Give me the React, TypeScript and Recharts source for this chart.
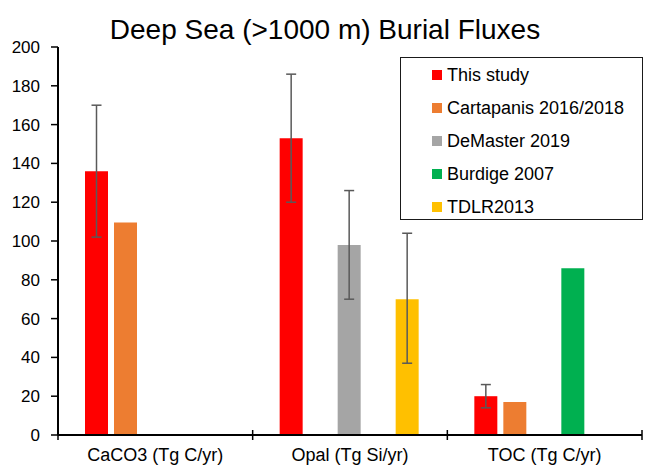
import React from "react";
import { BarChart, Bar, XAxis, YAxis, ErrorBar, Legend } from "recharts";

const categories = ["CaCO3 (Tg C/yr)", "Opal (Tg Si/yr)", "TOC (Tg C/yr)"];
const thisStudy = [136, 153, 20];
const thisStudyErr = [[34, 34], [33, 33], [6, 6]];
const cartapanis = [109.5, null, 17];
const demaster = [null, 98, null];
const demasterErr = [null, [28, 28], null];
const burdige = [null, null, 86];
const tdlr = [null, 70, null];
const tdlrErr = [null, [33, 34], null];
const yTicks = [0, 20, 40, 60, 80, 100, 120, 140, 160, 180, 200];
const title = "Deep Sea (>1000 m) Burial Fluxes";

const series = [
  { key: "thisStudy", name: "This study", color: "#FF0000" },
  { key: "cartapanis", name: "Cartapanis 2016/2018", color: "#ED7D31" },
  { key: "demaster", name: "DeMaster 2019", color: "#A5A5A5" },
  { key: "burdige", name: "Burdige 2007", color: "#00B050" },
  { key: "tdlr", name: "TDLR2013", color: "#FFC000" },
];

const data = categories.map((c, i) => ({
  name: c,
  thisStudy: thisStudy[i],
  thisStudyErr: thisStudyErr[i],
  cartapanis: cartapanis[i],
  demaster: demaster[i],
  demasterErr: demasterErr[i],
  burdige: burdige[i],
  tdlr: tdlr[i],
  tdlrErr: tdlrErr[i],
}));

const FONT = "'Liberation Sans', Arial, sans-serif";

const XTick = (props: any) => {
  const { x, y, payload, index } = props;
  const half = payload && payload.offset ? payload.offset : 97.5;
  return (
    <g>
      <line x1={x - half} x2={x - half} y1={y - 5} y2={y + 5} stroke="#000" strokeWidth={1.5} />
      {index === categories.length - 1 && (
        <line x1={x + half} x2={x + half} y1={y - 5} y2={y + 5} stroke="#000" strokeWidth={1.5} />
      )}
      <text x={x} y={y + 26} textAnchor="middle" fontSize={18} fontFamily={FONT} fill="#000">
        {payload.value}
      </text>
    </g>
  );
};

const LegendBox = () => (
  <div
    style={{
      width: 243,
      height: 163,
      border: "1.5px solid #1a1a1a",
      background: "#fff",
      boxSizing: "border-box",
      fontFamily: FONT,
      fontSize: 18,
      color: "#000",
      position: "relative",
    }}
  >
    {series.map((s, i) => (
      <div
        key={s.key}
        style={{
          position: "absolute",
          left: 31,
          top: 6 + i * 33,
          height: 22,
          display: "flex",
          alignItems: "center",
          whiteSpace: "nowrap",
        }}
      >
        <span style={{ width: 10, height: 10, background: s.color, display: "inline-block", marginRight: 5 }} />
        <span>{s.name}</span>
      </div>
    ))}
  </div>
);

export default function App() {
  return (
    <div style={{ position: "absolute", left: 0, top: 0, width: 647, height: 465, background: "#fff" }}>
      <div
        style={{
          position: "absolute",
          left: 0,
          width: 650,
          top: 16,
          textAlign: "center",
          fontFamily: FONT,
          fontSize: 28,
          lineHeight: "28px",
          color: "#000",
          whiteSpace: "nowrap",
        }}
      >
        {title}
      </div>
      <BarChart
        width={647}
        height={465}
        data={data}
        margin={{ top: 47, right: 5, bottom: 0, left: 0 }}
        barCategoryGap={27}
        barGap={6}
      >
        <XAxis
          dataKey="name"
          height={30}
          tickLine={false}
          tickSize={0}
          tickMargin={0}
          axisLine={{ stroke: "#000", strokeWidth: 2 }}
          tick={<XTick />}
          interval={0}
        />
        <YAxis
          width={58}
          domain={[0, 200]}
          ticks={yTicks}
          interval={0}
          tickSize={7}
          tickMargin={11}
          axisLine={{ stroke: "#000", strokeWidth: 2 }}
          tickLine={{ stroke: "#000", strokeWidth: 1.5 }}
          tick={{ fontSize: 17, fontFamily: FONT, fill: "#000" }}
        />
        <Legend
          layout="vertical"
          align="center"
          verticalAlign="middle"
          content={<LegendBox />}
          wrapperStyle={{ left: 400, top: 57, width: 243, height: 163 }}
        />
        {series.map((s) => (
          <Bar key={s.key} dataKey={s.key} name={s.name} fill={s.color} isAnimationActive={false}>
            {s.key === "thisStudy" && (
              <ErrorBar dataKey="thisStudyErr" width={5} stroke="#595959" strokeWidth={1.5} direction="y" />
            )}
            {s.key === "demaster" && (
              <ErrorBar dataKey="demasterErr" width={5} stroke="#595959" strokeWidth={1.5} direction="y" />
            )}
            {s.key === "tdlr" && (
              <ErrorBar dataKey="tdlrErr" width={5} stroke="#595959" strokeWidth={1.5} direction="y" />
            )}
          </Bar>
        ))}
      </BarChart>
    </div>
  );
}
